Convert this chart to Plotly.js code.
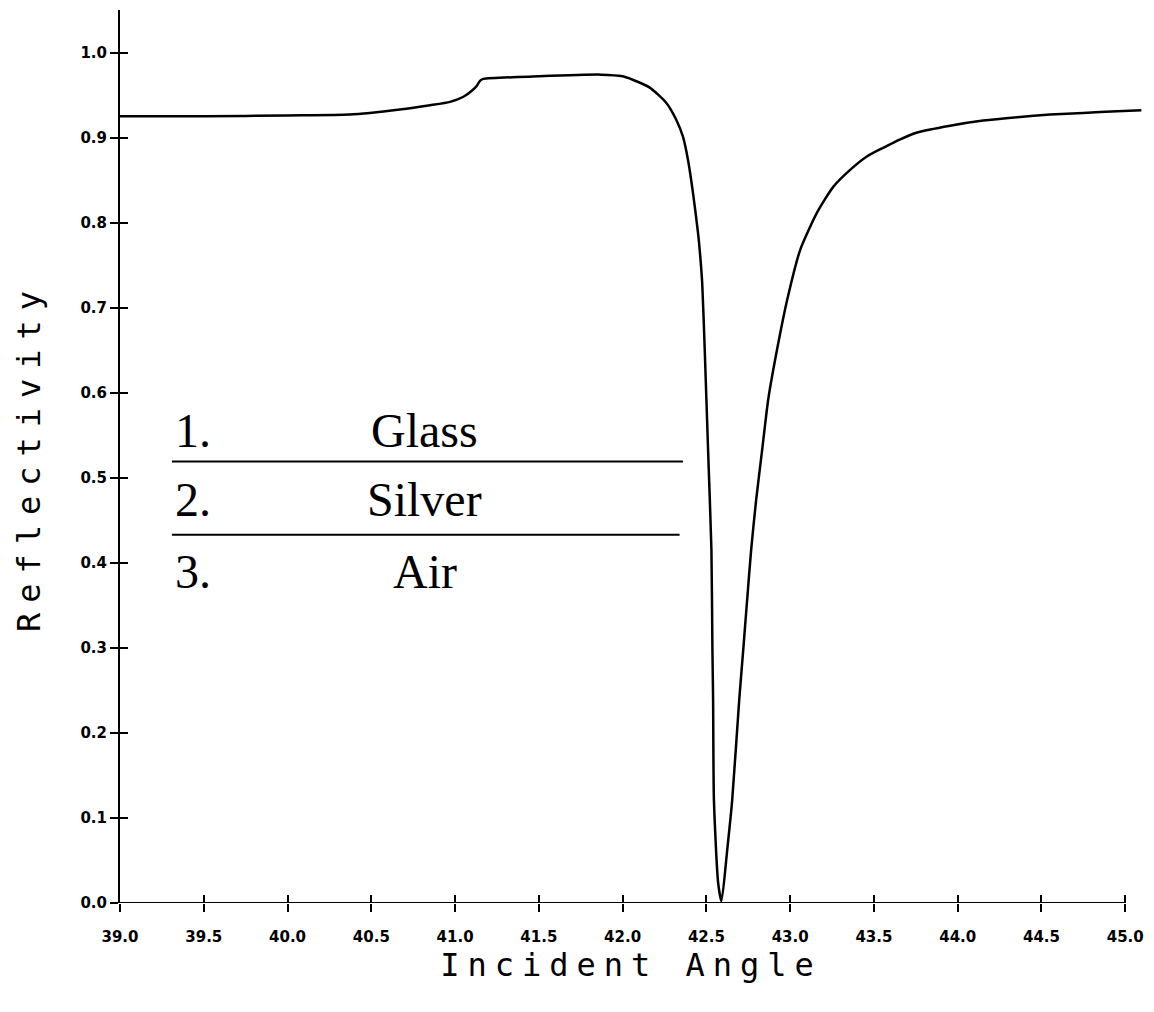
<!DOCTYPE html>
<html>
<head>
<meta charset="utf-8">
<script src="https://cdn.plot.ly/plotly-3.0.1.min.js"></script>
<style>
  html, body { margin: 0; padding: 0; background: #fff; }
  #chart { width: 1154px; height: 1012px; }
  text.xtitle { letter-spacing: 8px; }
  text.ytitle { letter-spacing: 10px; }
</style>
</head>
<body>
<div id="chart"></div>
<script>
// Incident angle (degrees)
const angle = [39.0, 39.5, 40.0, 40.37, 40.67, 40.85, 40.97, 41.05, 41.10, 41.13, 41.15, 41.17,
  41.5, 41.87, 42.0, 42.06, 42.16, 42.26, 42.32, 42.36, 42.39, 42.42, 42.45, 42.46, 42.475,
  42.49, 42.51, 42.53, 42.536, 42.54, 42.545, 42.57, 42.59, 42.624, 42.654, 42.696, 42.72,
  42.743, 42.767, 42.797, 42.833, 42.869, 42.922, 42.982, 43.06, 43.161, 43.257, 43.358,
  43.46, 43.555, 43.657, 43.758, 43.955, 44.152, 44.355, 44.552, 44.749, 44.952, 45.096];
// Reflectivity
const reflectivity = [0.925, 0.925, 0.926, 0.927, 0.933, 0.938, 0.942, 0.948, 0.955, 0.961, 0.967, 0.969,
  0.972, 0.974, 0.972, 0.968, 0.959, 0.941, 0.921, 0.901, 0.874, 0.835, 0.788, 0.768, 0.729,
  0.651, 0.533, 0.415, 0.298, 0.239, 0.121, 0.024, 0.002, 0.062, 0.121, 0.239, 0.298,
  0.356, 0.415, 0.474, 0.533, 0.592, 0.651, 0.709, 0.768, 0.812, 0.842, 0.862,
  0.878, 0.888, 0.898, 0.906, 0.914, 0.920, 0.924, 0.927, 0.929, 0.931, 0.932];

const xTickVals = [39.0, 39.5, 40.0, 40.5, 41.0, 41.5, 42.0, 42.5, 43.0, 43.5, 44.0, 44.5, 45.0];
const xTickText = ["39.0", "39.5", "40.0", "40.5", "41.0", "41.5", "42.0", "42.5", "43.0", "43.5", "44.0", "44.5", "45.0"];
const yTickVals = [0.0, 0.1, 0.2, 0.3, 0.4, 0.5, 0.6, 0.7, 0.8, 0.9, 1.0];
const yTickText = ["0.0", "0.1", "0.2", "0.3", "0.4", "0.5", "0.6", "0.7", "0.8", "0.9", "1.0"];

const layerNumbers = ["1.", "2.", "3."];
const layerNames = ["Glass", "Silver", "Air"];

const xRange = [39.0, 45.1];
const yRange = [0, 1.05];

const tickFont = { family: "DejaVu Sans", size: 15, color: "#000", weight: "bold" };
const titleFont = { family: "DejaVu Sans Mono", size: 32, color: "#000" };
const serif = { family: "Liberation Serif", size: 48, color: "#000" };

const traces = [
  { x: angle, y: reflectivity, type: "scatter", mode: "lines",
    line: { color: "#000", width: 2.5, shape: "spline", smoothing: 0.6 },
    hoverinfo: "x+y", showlegend: false },
  // invisible copy on overlaid axes: draws the inner half of the crossing ticks
  { x: angle, y: reflectivity, xaxis: "x2", yaxis: "y2", type: "scatter", mode: "lines",
    line: { color: "rgba(0,0,0,0)", width: 0 }, hoverinfo: "skip", showlegend: false }
];

// layer annotations (row centres in data units)
const rowY = [0.555, 0.474, 0.390];
const annotations = [];
for (let i = 0; i < 3; i++) {
  annotations.push({ xref: "x", yref: "y", x: 39.316, y: rowY[i], xanchor: "left", yanchor: "middle",
    text: layerNumbers[i], showarrow: false, font: serif });
  annotations.push({ xref: "x", yref: "y", x: 40.82, y: rowY[i], xanchor: "center", yanchor: "middle",
    text: layerNames[i], showarrow: false, font: serif });
}

const layout = {
  width: 1154, height: 1012,
  paper_bgcolor: "#fff", plot_bgcolor: "#fff",
  margin: { l: 120, r: 12, t: 10, b: 109 },
  showlegend: false,
  xaxis: {
    range: xRange, tickvals: xTickVals, ticktext: xTickText,
    ticks: "outside", ticklen: 8, tickwidth: 2, tickcolor: "#000",
    ticklabelstandoff: 12,
    tickfont: tickFont,
    showline: false, showgrid: false, zeroline: false,
    title: { text: "Incident Angle", font: titleFont, standoff: 8 },
    automargin: false
  },
  yaxis: {
    range: yRange, tickvals: yTickVals, ticktext: yTickText,
    ticks: "outside", ticklen: 8, tickwidth: 2, tickcolor: "#000",
    ticklabelstandoff: 0,
    tickfont: tickFont,
    showline: true, linecolor: "#000", linewidth: 2,
    showgrid: false, zeroline: false,
    title: { text: "Reflectivity", font: titleFont, standoff: 30 },
    automargin: false
  },
  xaxis2: {
    overlaying: "x", anchor: "y2", range: xRange, tickvals: xTickVals,
    ticks: "inside", ticklen: 8, tickwidth: 2, tickcolor: "#000",
    showticklabels: false, showline: false, showgrid: false, zeroline: false
  },
  yaxis2: {
    overlaying: "y", anchor: "x2", side: "left", range: yRange, tickvals: yTickVals,
    ticks: "inside", ticklen: 8, tickwidth: 2, tickcolor: "#000",
    showticklabels: false, showline: false, showgrid: false, zeroline: false
  },
  shapes: [
    // x axis line (ends at 45.0)
    { type: "line", xref: "x", yref: "y", x0: 39.0, x1: 45.0, y0: 0, y1: 0,
      line: { color: "#000", width: 2 } },
    // separators between the layers
    { type: "line", xref: "x", yref: "y", x0: 39.31, x1: 42.36, y0: 0.519, y1: 0.519,
      line: { color: "#000", width: 2 } },
    { type: "line", xref: "x", yref: "y", x0: 39.31, x1: 42.34, y0: 0.433, y1: 0.433,
      line: { color: "#000", width: 2 } }
  ],
  annotations: annotations
};

Plotly.newPlot("chart", traces, layout, { displayModeBar: false, staticPlot: true });
</script>
</body>
</html>
